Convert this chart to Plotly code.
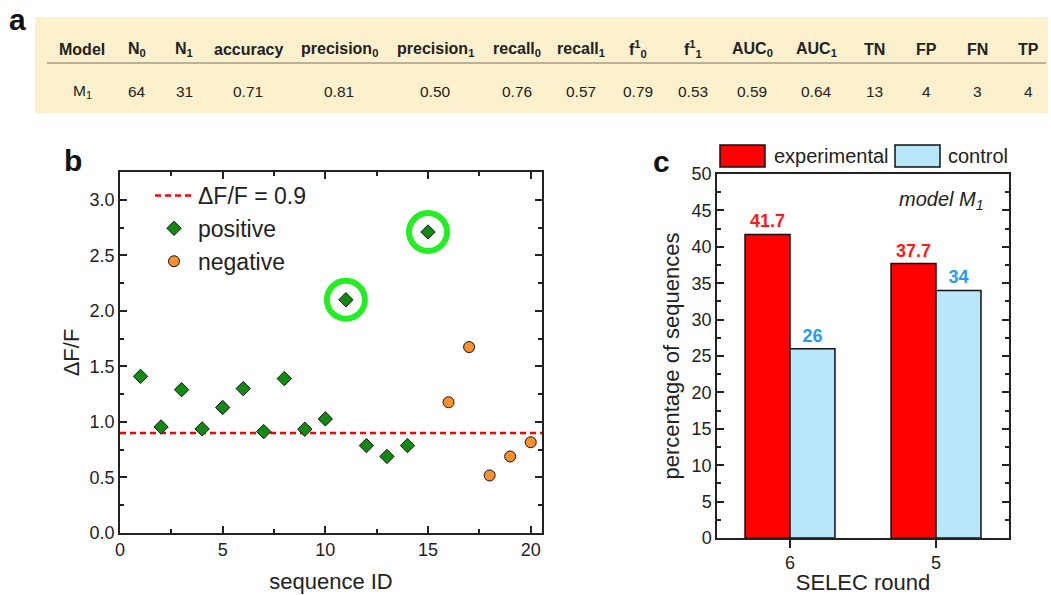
import plotly.graph_objects as go

W, H = 1051, 595

# ---------------- data ----------------
table_headers = ["Model", "N<sub>0</sub>", "N<sub>1</sub>", "accuracy",
                 "precision<sub>0</sub>", "precision<sub>1</sub>",
                 "recall<sub>0</sub>", "recall<sub>1</sub>",
                 "f<sup>1</sup><sub>0</sub>", "f<sup>1</sup><sub>1</sub>",
                 "AUC<sub>0</sub>", "AUC<sub>1</sub>", "TN", "FP", "FN", "TP"]
table_values = ["M<sub>1</sub>", "64", "31", "0.71", "0.81", "0.50", "0.76",
                "0.57", "0.79", "0.53", "0.59", "0.64", "13", "4", "3", "4"]

threshold = 0.9
pos_ids = [1, 2, 3, 4, 5, 6, 7, 8, 9, 10, 11, 12, 13, 14, 15]
pos_vals = [1.41, 0.955, 1.29, 0.937, 1.13, 1.30, 0.913, 1.39, 0.934, 1.027,
            2.10, 0.787, 0.689, 0.787, 2.71]
neg_ids = [16, 17, 18, 19, 20]
neg_vals = [1.177, 1.674, 0.518, 0.689, 0.817]
highlight_ids = [11, 15]

rounds = ["6", "5"]
experimental = [41.7, 37.7]
control = [26, 34]

# ---------------- layout helpers (pixel -> paper) ----------------
def px(x):
    return x / W

def py(y):
    return 1 - y / H

FONT = "Liberation Sans, Arial, sans-serif"
col_centers = [82, 137, 184, 248, 339, 435, 517, 581, 638, 693, 752, 816,
               875, 926, 977, 1028]

fig = go.Figure()

# ---------------- panel b ----------------
b_xrange = [0, 20.55]
fig.add_trace(go.Scatter(
    x=b_xrange, y=[threshold, threshold], mode="lines",
    line=dict(color="#FF0000", width=2.5, dash="6px,4px"),
    name="\u0394F/F = 0.9", xaxis="x", yaxis="y", legend="legend"))
fig.add_trace(go.Scatter(
    x=pos_ids, y=pos_vals, mode="markers", name="positive",
    marker=dict(symbol="diamond", size=11, color="#128A12",
                line=dict(color="#111111", width=1)),
    xaxis="x", yaxis="y", legend="legend"))
fig.add_trace(go.Scatter(
    x=neg_ids, y=neg_vals, mode="markers", name="negative",
    marker=dict(symbol="circle", size=11, color="#F8902E",
                line=dict(color="#111111", width=1)),
    xaxis="x", yaxis="y", legend="legend"))
hl_y = [pos_vals[pos_ids.index(i)] for i in highlight_ids]
fig.add_trace(go.Scatter(
    x=highlight_ids, y=hl_y, mode="markers", showlegend=False,
    marker=dict(symbol="circle-open", size=38, color="#22EE22",
                line=dict(color="#22EE22", width=6)),
    xaxis="x", yaxis="y", hoverinfo="skip"))

# ---------------- panel c ----------------
fig.add_trace(go.Bar(
    x=rounds, y=experimental, name="experimental",
    marker=dict(color="#FF0000", line=dict(color="#111111", width=1.5)),
    text=experimental, texttemplate="<b>%{y}</b>", textposition="outside",
    textfont=dict(color="#FF1A1A", size=18, family=FONT),
    cliponaxis=False, showlegend=False, xaxis="x2", yaxis="y2"))
fig.add_trace(go.Bar(
    x=rounds, y=control, name="control",
    marker=dict(color="#B8E6FA", line=dict(color="#111111", width=1.5)),
    text=control, texttemplate="<b>%{y}</b>", textposition="outside",
    textfont=dict(color="#1E9EF5", size=18, family=FONT),
    cliponaxis=False, showlegend=False, xaxis="x2", yaxis="y2"))

axis_common = dict(showline=True, linecolor="#222222", linewidth=1.5,
                   ticks="inside", ticklen=7, tickwidth=1.5, tickcolor="#222222",
                   showgrid=False, zeroline=False, automargin=False,
                   tickfont=dict(size=18, color="#222222", family=FONT))

fig.update_layout(
    width=W, height=H, autosize=False, margin=dict(l=0, r=0, t=0, b=0, pad=0),
    paper_bgcolor="white", plot_bgcolor="white",
    font=dict(family=FONT, color="#222222"),
    barmode="group", bargap=0.384, bargroupgap=0,
    xaxis=dict(domain=[px(120), px(542)], anchor="y", range=b_xrange,
               dtick=5, tick0=0, mirror="ticks",
               minor=dict(dtick=2.5, ticks="inside", ticklen=4, tickwidth=1.5,
                          tickcolor="#222222"),
               title=dict(text="sequence ID", font=dict(size=22), standoff=14),
               **axis_common),
    yaxis=dict(domain=[py(533), py(172)], anchor="x", range=[0, 3.25],
               dtick=0.5, tick0=0, tickformat=".1f", mirror="ticks",
               minor=dict(dtick=0.25, ticks="inside", ticklen=4, tickwidth=1.5,
                          tickcolor="#222222"),
               title=dict(text="\u0394F/F", font=dict(size=22), standoff=4),
               **axis_common),
    xaxis2=dict(domain=[px(717), px(1009)], anchor="y2", type="category",
                range=[-0.5, 1.5], mirror=True, automargin=False,
                showline=True, linecolor="#222222", linewidth=1.5,
                ticks="outside", ticklen=8, tickwidth=1.5, tickcolor="#222222",
                showgrid=False, zeroline=False,
                tickfont=dict(size=18, color="#222222", family=FONT),
                title=dict(text="SELEC round", font=dict(size=22), standoff=14)),
    yaxis2=dict(domain=[py(538), py(174)], anchor="x2", range=[0, 50],
                dtick=5, tick0=0, mirror="ticks",
                minor=dict(dtick=2.5, ticks="inside", ticklen=4, tickwidth=1.5,
                           tickcolor="#222222"),
                title=dict(text="percentage of sequences", font=dict(size=22),
                           standoff=6),
                **axis_common),
    legend=dict(x=px(150), y=py(174), xanchor="left", yanchor="top",
                bgcolor="rgba(0,0,0,0)", font=dict(size=23, color="#222222"),
                tracegroupgap=0, itemwidth=38),
)

shapes = []
annotations = []

# table band and separator
shapes.append(dict(type="rect", xref="paper", yref="paper",
                   x0=px(35), x1=px(1048), y0=py(113), y1=py(17),
                   fillcolor="#FDF0CC", line=dict(width=0), layer="below"))
shapes.append(dict(type="line", xref="paper", yref="paper",
                   x0=px(47), x1=px(1046), y0=py(63), y1=py(63),
                   line=dict(color="#A39C8C", width=1.5)))
for cx, hdr, val in zip(col_centers, table_headers, table_values):
    annotations.append(dict(xref="paper", yref="paper", x=px(cx), y=py(49),
                            text="<b>" + hdr + "</b>", showarrow=False,
                            xanchor="center", yanchor="middle",
                            font=dict(size=16, color="#222222", family=FONT)))
    annotations.append(dict(xref="paper", yref="paper", x=px(cx), y=py(91),
                            text=val, showarrow=False,
                            xanchor="center", yanchor="middle",
                            font=dict(size=15.5, color="#222222", family=FONT)))

# panel letters
for letter, lx, ly in [("a", 17, 19), ("b", 73, 161), ("c", 661, 162)]:
    annotations.append(dict(xref="paper", yref="paper", x=px(lx), y=py(ly),
                            text="<b>" + letter + "</b>", showarrow=False,
                            xanchor="center", yanchor="middle",
                            font=dict(size=30, color="#111111", family=FONT)))

# panel c legend (manual swatches)
for (x0, x1, color, label, tx) in [(720, 765, "#FF0000", "experimental", 772),
                                   (895, 940, "#B8E6FA", "control", 946)]:
    shapes.append(dict(type="rect", xref="paper", yref="paper",
                       x0=px(x0), x1=px(x1), y0=py(167), y1=py(145),
                       fillcolor=color, line=dict(color="#111111", width=1.5)))
    annotations.append(dict(xref="paper", yref="paper", x=px(tx), y=py(156),
                            text=label, showarrow=False, xanchor="left",
                            yanchor="middle",
                            font=dict(size=20, color="#222222", family=FONT)))

annotations.append(dict(xref="paper", yref="paper", x=px(941), y=py(200),
                        text="<i>model M<sub>1</sub></i>", showarrow=False,
                        xanchor="center", yanchor="middle",
                        font=dict(size=20, color="#222222", family=FONT)))

fig.update_layout(shapes=shapes, annotations=annotations)

fig.write_html("out.html",
               post_script="document.documentElement.style.margin='0px';"
                           "document.body.style.margin='0px';",
               config={"displayModeBar": False})
